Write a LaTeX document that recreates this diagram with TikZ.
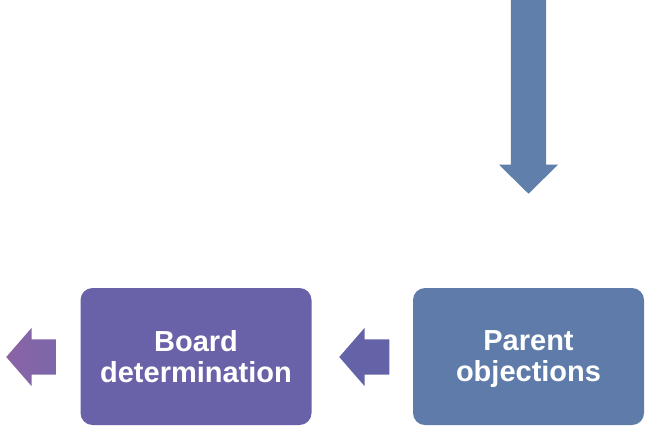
\documentclass[tikz,border=0pt]{standalone}
\usepackage{fontspec}
\setmainfont{Liberation Sans}
\usetikzlibrary{shapes.arrows}

\definecolor{azul}{HTML}{5F7BAA}
\definecolor{azulflecha}{HTML}{6080AB}
\definecolor{morado}{HTML}{6962A8}
\definecolor{moradoflecha}{HTML}{6563A8}
\definecolor{lilaA}{HTML}{8A63A6}
\definecolor{lilaB}{HTML}{7C67A8}

\tikzstyle{caja}= [rectangle,rounded corners=12pt,minimum width=231pt,minimum height=137pt,text=white,align=center,font=\fontsize{29}{31}\selectfont\bfseries]
\tikzstyle{flecha}= [single arrow,anchor=tip,single arrow head indent=0pt]
\tikzstyle{izquierda}= [flecha,shape border rotate=180,inner xsep=0pt,inner ysep=17.5pt,minimum height=50pt,single arrow head extend=11.5pt,single arrow tip angle=98]

\begin{document}
\begin{tikzpicture}[x=1pt,y=-1pt]
		\useasboundingbox (0,0) rectangle (652,426);

		\node (parent) at (528.5,356.5) [caja,fill=azul] {Parent\\ob\smash{j}ections};
		\node (board) at (196,356.5) [caja,fill=morado] {Board\\determination};

		\node (entrada) at (528.5,194) [flecha,fill=azulflecha,shape border rotate=270,inner xsep=17.5pt,inner ysep=0pt,minimum height=204pt,single arrow head extend=12pt,single arrow tip angle=91] {};
		\node (paso) at (339,357) [izquierda,fill=moradoflecha] {};
		\node (salida) at (6,357) [izquierda,left color=lilaA,right color=lilaB] {};

	\end{tikzpicture}
\end{document}
